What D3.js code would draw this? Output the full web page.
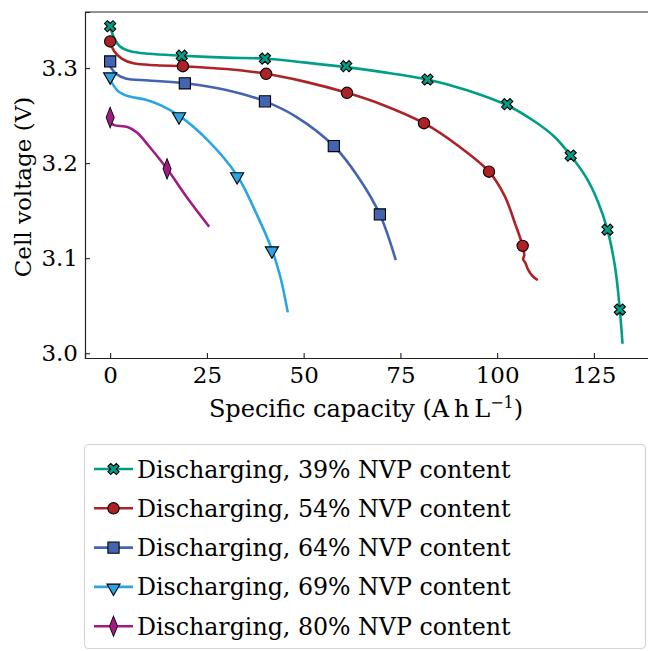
<!DOCTYPE html>
<html>
<head>
<meta charset="utf-8">
<script src="https://cdn.jsdelivr.net/npm/d3@7"></script>
<style>
  body { margin: 0; background: #fff; }
  svg text { font-family: "DejaVu Serif"; fill: #000; }
</style>
</head>
<body>
<svg id="chart" width="648" height="651"></svg>
<script>
// series labels and colours
const labels = ["Discharging, 39% NVP content", "Discharging, 54% NVP content",
                "Discharging, 64% NVP content", "Discharging, 69% NVP content",
                "Discharging, 80% NVP content"];
const colors = ["#009e86", "#ad2226", "#4364b0", "#29a6e1", "#a21a83"];
const shapes = ["x", "circle", "square", "triangle", "diamond"];

// curves: [capacity, voltage]
const curve39 = [[0,3.343],[1,3.332],[2.5,3.323],[5,3.318],[10,3.315],[18.5,3.313],[30,3.311],[40,3.310],
  [50,3.306],[61,3.301],[70,3.296],[82,3.288],[92,3.277],[102.5,3.261],[110,3.243],[115,3.227],[119,3.208],
  [123,3.185],[126,3.160],[128.5,3.130],[130.5,3.090],[131.7,3.046],[132.4,3.010]];
const curve54 = [[0,3.328],[1,3.318],[3,3.310],[6,3.305],[12,3.303],[18.8,3.302],[30,3.299],[40.3,3.294],
  [50,3.286],[61.2,3.274],[70,3.262],[81.1,3.242],[90,3.218],[97.9,3.191],[102,3.165],[104.5,3.138],
  [106.6,3.113],[107,3.103],[106.7,3.099],[107.3,3.095],[108,3.088],[109.2,3.081],[110.5,3.077]];
const curve64 = [[0,3.302],[1.5,3.294],[4,3.289],[10,3.287],[19.3,3.284],[30,3.277],[40,3.265],[48,3.249],
  [57.8,3.218],[64,3.186],[69.7,3.146],[73.8,3.098]];
const curve69 = [[0,3.288],[2,3.276],[5,3.270],[9,3.267],[13,3.261],[17.8,3.250],[25,3.225],[32.8,3.187],
  [38,3.145],[41.8,3.109],[44,3.080],[45.9,3.043]];
const curve80 = [[0,3.243],[1,3.240],[4.5,3.238],[7,3.232],[10,3.218],[14.7,3.194],[20,3.163],[25.6,3.133]];

// marker positions
const marks39 = [[0,3.344],[18.5,3.313],[40,3.310],[61,3.302],[82,3.288],[102.6,3.262],[119,3.208],[128.5,3.130],[131.7,3.046]];
const marks54 = [[0,3.328],[18.8,3.302],[40.3,3.294],[61.2,3.274],[81.1,3.242],[97.9,3.191],[106.6,3.113]];
const marks64 = [[0,3.307],[19.3,3.284],[40,3.265],[57.8,3.218],[69.7,3.146]];
const marks69 = [[0,3.292],[17.8,3.250],[32.8,3.187],[41.8,3.109]];
const marks80 = [[0,3.248],[14.7,3.194]];

const curves = [curve39, curve54, curve64, curve69, curve80];
const marks = [marks39, marks54, marks64, marks69, marks80];

const xTicks = [0, 25, 50, 75, 100, 125];
const yTicks = [3.0, 3.1, 3.2, 3.3];

const svg = d3.select("#chart");
const plotL = 85, plotT = 12, plotB = 358, plotR = 650;

const x = d3.scaleLinear().domain([-6.5, 139.5]).range([plotL, plotR]);
const y = d3.scaleLinear().domain([2.995, 3.359]).range([plotB, plotT]);

function markerPath(shape) {
  if (shape === "circle") return d3.symbol(d3.symbolCircle, 100)();
  if (shape === "square") return d3.symbol(d3.symbolSquare, 125)();
  if (shape === "triangle") return d3.symbol(d3.symbolTriangle, 75)();
  if (shape === "diamond") return d3.symbol(d3.symbolDiamond, 110)();
  return d3.symbol(d3.symbolCross, 78)();
}
function markerTransform(shape, px, py) {
  if (shape === "x") return `translate(${px},${py}) rotate(45)`;
  if (shape === "triangle") return `translate(${px},${py + 1}) rotate(180)`;
  if (shape === "diamond") return `translate(${px},${py}) scale(0.72,1.05)`;
  return `translate(${px},${py})`;
}

const line = d3.line().x(d => x(d[0])).y(d => y(d[1])).curve(d3.curveCatmullRom.alpha(0.5));

// curves
curves.forEach((c, i) => {
  svg.append("path").datum(c).attr("d", line)
    .attr("fill", "none").attr("stroke", colors[i]).attr("stroke-width", 2.6);
});
// markers
marks.forEach((m, i) => {
  svg.append("g").selectAll("path").data(m).enter().append("path")
    .attr("d", markerPath(shapes[i]))
    .attr("transform", d => markerTransform(shapes[i], x(d[0]), y(d[1])))
    .attr("fill", colors[i]).attr("stroke", "#000").attr("stroke-width", 1.1);
});

// axes
const xAxis = d3.axisBottom(x).tickValues(xTicks).tickSize(-5).tickPadding(8).tickFormat(d3.format("d"));
const yAxis = d3.axisLeft(y).tickValues(yTicks).tickSize(-5).tickPadding(7).tickFormat(d3.format(".1f"));

const gx = svg.append("g").attr("transform", `translate(0,${plotB})`).call(xAxis);
const gy = svg.append("g").attr("transform", `translate(${plotL},0)`).call(yAxis);
[gx, gy].forEach(g => {
  g.attr("font-family", null);
  g.select(".domain").attr("stroke", "#222").attr("stroke-width", 1.2);
  g.selectAll(".tick line").attr("stroke", "#222").attr("stroke-width", 1.1);
  g.selectAll(".tick text").attr("font-size", 23).attr("fill", "#000");
});
gx.selectAll(".tick text").attr("dy", "0.74em");
// top spine
svg.append("line").attr("x1", plotL).attr("x2", plotR).attr("y1", plotT).attr("y2", plotT)
  .attr("stroke", "#222").attr("stroke-width", 1.2);

// axis labels
svg.append("text").attr("transform", `translate(31,${(plotT + plotB) / 2 + 2}) rotate(-90)`)
  .attr("text-anchor", "middle").attr("font-size", 23).text("Cell voltage (V)");
const xl = svg.append("text").attr("x", 366).attr("y", 417).attr("text-anchor", "middle").attr("font-size", 24);
xl.append("tspan").text("Specific capacity (A\u2009h\u2009L");
xl.append("tspan").attr("font-size", 16).attr("dy", -9).text("\u22121");
xl.append("tspan").attr("dy", 9).text(")");

// legend
const leg = svg.append("g");
leg.append("rect").attr("x", 84.5).attr("y", 444.5).attr("width", 561).attr("height", 204)
  .attr("rx", 4).attr("fill", "#fff").attr("stroke", "#d4d4d4").attr("stroke-width", 1.2);
labels.forEach((lab, i) => {
  const cy = 469 + i * 39.3;
  leg.append("line").attr("x1", 94).attr("x2", 133).attr("y1", cy).attr("y2", cy)
    .attr("stroke", colors[i]).attr("stroke-width", 2.6);
  leg.append("path").attr("d", markerPath(shapes[i]))
    .attr("transform", markerTransform(shapes[i], 113.5, cy))
    .attr("fill", colors[i]).attr("stroke", "#000").attr("stroke-width", 1.1);
  leg.append("text").attr("x", 137).attr("y", cy + 8.5).attr("font-size", 23.7).text(lab);
});
</script>
</body>
</html>
